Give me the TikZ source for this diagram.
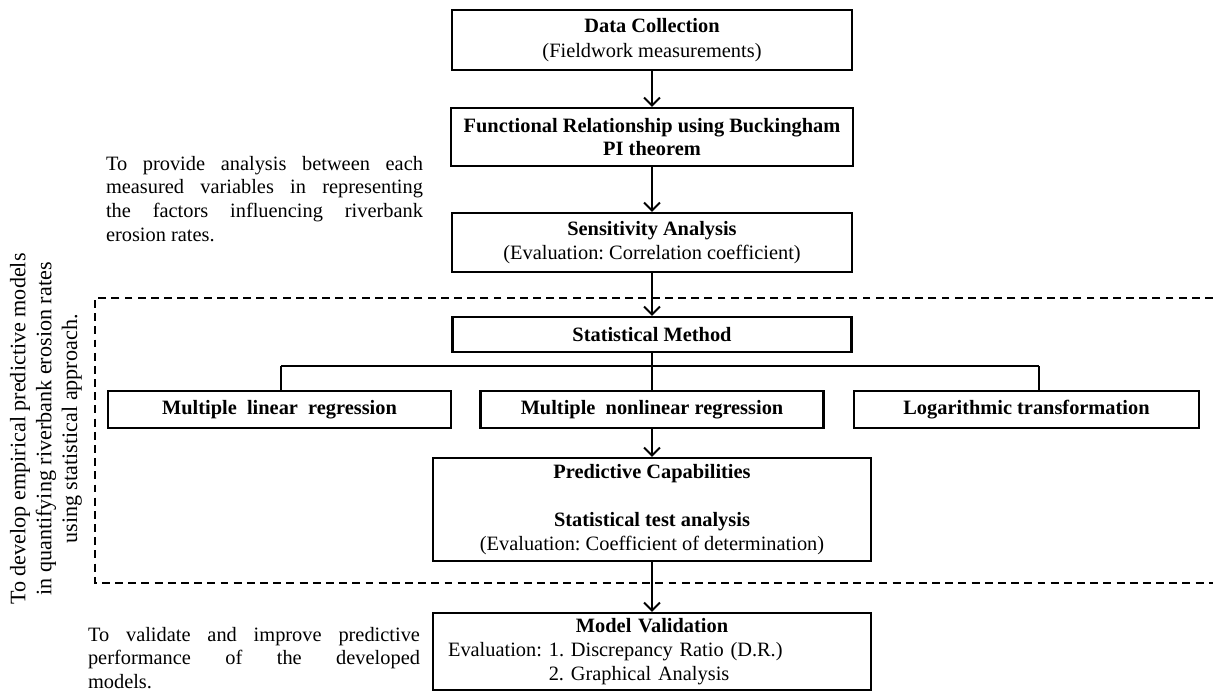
\documentclass[tikz,border=0pt]{standalone}
\usepackage{fontspec}
\setmainfont{Liberation Serif}
\usetikzlibrary{arrows.meta}

\tikzset{
    box/.style={draw, line width=1.2pt, align=center, inner sep=0pt},
    aim/.style={align=left, inner sep=0pt},
    link/.style={line width=1.1pt},
}

\begin{document}
\frenchspacing
\begin{tikzpicture}[x=0.02cm, y=-0.02cm, >={Straight Barb[length=1.6mm,width=3.2mm]},
        font=\fontsize{11.6}{13.6}\selectfont]
        \useasboundingbox (0,0) rectangle (1213,693);

        \coordinate (C1) at (652,  40.0);
        \coordinate (C2) at (652, 137.0);
        \coordinate (C3) at (652, 242.5);
        \coordinate (C4) at (652, 334.5);
        \coordinate (C5) at (279.5, 409.5);
        \coordinate (C6) at (652,   409.5);
        \coordinate (C7) at (1026.5, 409.5);
        \coordinate (C8) at (652, 509.5);
        \coordinate (C9) at (652, 651.5);

        \coordinate (barL) at (281, 366);
        \coordinate (barR) at (1039, 366);

        \coordinate (F1) at (1213, 298);
        \coordinate (F2) at (95,   298);
        \coordinate (F3) at (95,   583);
        \coordinate (F4) at (1213, 583);

        \draw[line width=1.2pt, dash pattern=on 4.5pt off 3pt]
            (F1) -- (F2) -- (F3) -- (F4);

        \node[box, minimum width=8cm,    minimum height=1.2cm]  (data) at (C1)
            {\textbf{Data Collection}\\[1pt](Fieldwork measurements)};
        \node[box, minimum width=8.04cm, minimum height=1.16cm] (func) at (C2)
            {\textbf{Functional Relationship using Buckingham}\\\textbf{PI theorem}};
        \node[box, minimum width=8cm,    minimum height=1.18cm] (sens) at (C3)
            {\textbf{Sensitivity Analysis}\\(Evaluation: Correlation coefficient)};
        \node[box, minimum width=7.98cm, minimum height=0.7cm]  (stat) at (C4)
            {\textbf{Statistical Method}};
        \node[box, minimum width=6.86cm, minimum height=0.74cm] (mlr)  at (C5)
            {\textbf{Multiple\ \ linear\ \ regression}};
        \node[box, minimum width=6.86cm, minimum height=0.74cm] (mnr)  at (C6)
            {\textbf{Multiple\ \ nonlinear regression}};
        \node[box, minimum width=6.9cm,  minimum height=0.74cm] (log)  at (C7)
            {\textbf{Logarithmic transformation}};
        \node[box, minimum width=8.76cm, minimum height=2.06cm] (pred) at (C8)
            {\textbf{Predictive Capabilities}\\[\baselineskip]
             \textbf{Statistical test analysis}\\(Evaluation: Coefficient of determination)};
        \node[box, minimum width=8.76cm, minimum height=1.54cm, align=left,
              text width=8.16cm, inner xsep=0.3cm] (val) at (C9)
            {\makebox[\linewidth]{\textbf{Model Validation}}\\
             Evaluation: 1. Discrepancy Ratio (D.R.)\\
             \phantom{Evaluation: }2. Graphical Analysis};

        \node[aim] (aim1) at (264.5, 199)
            {\makebox[6.34cm][s]{To provide analysis between each}\\
             \makebox[6.34cm][s]{measured variables in representing}\\
             \makebox[6.34cm][s]{the factors influencing riverbank}\\
             erosion rates.};
        \node[aim] (aim2) at (254, 658)
            {\makebox[6.64cm][s]{To validate and improve predictive}\\
             \makebox[6.64cm][s]{performance of the developed}\\
             models.};
        \node[rotate=90, align=center, inner sep=0pt,
              font=\fontsize{12.6}{14.7}\selectfont] (aim3) at (46, 429)
            {To develop empirical predictive models\\
             in quantifying riverbank erosion rates\\
             using statistical approach.};

        \draw[->, link] (data) -- (func);
        \draw[->, link] (func) -- (sens);
        \draw[->, link] (sens) -- (stat);
        \draw[link] (stat) -- (mnr);
        \draw[link] (barL) -- (barR);
        \draw[link] (barL) -- (barL |- mlr.north);
        \draw[link] (barR) -- (barR |- log.north);
        \draw[->, link] (mnr) -- (pred);
        \draw[->, link] (pred) -- (val);
    \end{tikzpicture}
\end{document}
